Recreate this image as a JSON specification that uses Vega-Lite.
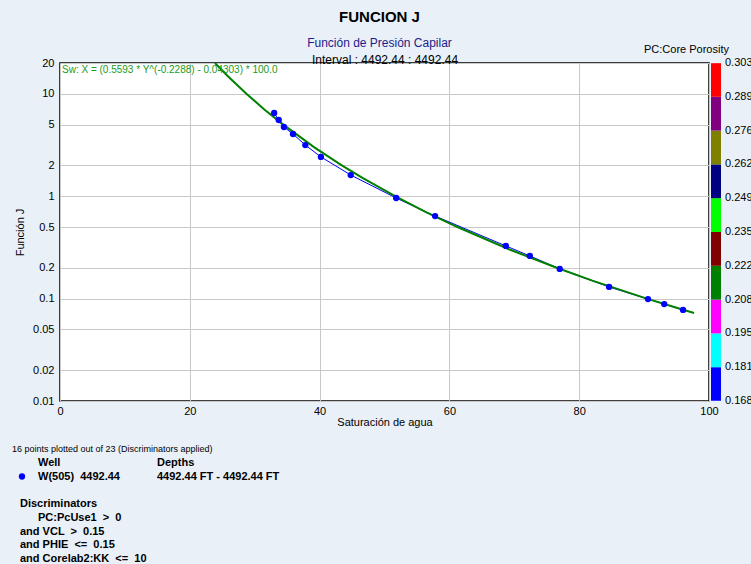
{
  "$schema": "https://vega.github.io/schema/vega-lite/v6.json",
  "width": 649,
  "height": 338,
  "autosize": {"type": "none"},
  "padding": {"left": 60, "top": 63, "right": 42, "bottom": 163},
  "background": "#e9f0f8",
  "view": {"fill": "white", "stroke": "black", "strokeWidth": 1.5},
  "title": {
    "text": "FUNCION J",
    "subtitle": "Función de Presión Capilar",
    "anchor": "middle",
    "frame": "group",
    "fontSize": 15,
    "fontWeight": "bold",
    "color": "black",
    "subtitleFontSize": 12,
    "subtitleColor": "#1c1c8a",
    "subtitlePadding": 13,
    "offset": -5,
    "dx": -5
  },
  "datasets": {
    "points": [
      {"sw": 33.0, "j": 6.5, "porosity": 0.17},
      {"sw": 33.7, "j": 5.55, "porosity": 0.17},
      {"sw": 34.5, "j": 4.74, "porosity": 0.17},
      {"sw": 35.9, "j": 4.05, "porosity": 0.17},
      {"sw": 37.8, "j": 3.16, "porosity": 0.17},
      {"sw": 40.2, "j": 2.42, "porosity": 0.17},
      {"sw": 44.8, "j": 1.61, "porosity": 0.17},
      {"sw": 51.8, "j": 0.96, "porosity": 0.17},
      {"sw": 57.8, "j": 0.64, "porosity": 0.17},
      {"sw": 68.7, "j": 0.327, "porosity": 0.17},
      {"sw": 72.4, "j": 0.261, "porosity": 0.17},
      {"sw": 77.0, "j": 0.195, "porosity": 0.17},
      {"sw": 84.6, "j": 0.13, "porosity": 0.17},
      {"sw": 90.6, "j": 0.099, "porosity": 0.17},
      {"sw": 93.1, "j": 0.0885, "porosity": 0.17},
      {"sw": 96.0, "j": 0.0775, "porosity": 0.17}
    ],
    "fit": [
      {"sw": 23.88, "j": 20},
      {"sw": 25.79, "j": 15},
      {"sw": 28.72, "j": 10},
      {"sw": 31.53, "j": 7},
      {"sw": 34.40, "j": 5},
      {"sw": 39.19, "j": 3},
      {"sw": 43.42, "j": 2},
      {"sw": 46.67, "j": 1.5},
      {"sw": 51.63, "j": 1},
      {"sw": 56.38, "j": 0.7},
      {"sw": 61.24, "j": 0.5},
      {"sw": 69.36, "j": 0.3},
      {"sw": 76.53, "j": 0.2},
      {"sw": 82.03, "j": 0.15},
      {"sw": 90.42, "j": 0.1},
      {"sw": 95.39, "j": 0.08},
      {"sw": 97.7, "j": 0.0724}
    ],
    "equation": [
      {"sw": 0, "j": 20, "label": "Sw: X = (0.5593 * Y^(-0.2288) - 0.04303) * 100.0"}
    ],
    "colorTitle": [
      {"sw": 100, "j": 20, "label": "PC:Core Porosity"}
    ],
    "notes": [
      {"line": 0, "tab": 4, "part": "summary", "text": "16 points plotted out of 23 (Discriminators applied)"},
      {"line": 1, "tab": 30, "part": "legend", "text": "Well"},
      {"line": 1, "tab": 149, "part": "legend", "text": "Depths"},
      {"line": 2, "tab": 30, "part": "legend", "text": "W(505) \u00a04492.44"},
      {"line": 2, "tab": 149, "part": "legend", "text": "4492.44 FT - 4492.44 FT"},
      {"line": 4, "tab": 12, "part": "discriminators", "text": "Discriminators"},
      {"line": 5, "tab": 30, "part": "discriminators", "text": "PC:PcUse1 \u00a0> \u00a00"},
      {"line": 6, "tab": 12, "part": "discriminators", "text": "and VCL \u00a0> \u00a00.15"},
      {"line": 7, "tab": 12, "part": "discriminators", "text": "and PHIE \u00a0<= \u00a00.15"},
      {"line": 8, "tab": 12, "part": "discriminators", "text": "and Corelab2:KK \u00a0<= \u00a010"}
    ],
    "wells": [
      {"line": 2, "tab": 14, "well": "W(505)"}
    ]
  },
  "layer": [
    {
      "encoding": {
        "y": {"field": "j", "type": "quantitative",
              "scale": {"type": "log", "domain": [0.01, 20], "nice": false},
              "axis": {"title": "Función J", "values": [0.01, 0.02, 0.05, 0.1, 0.2, 0.5, 1, 2, 5, 10, 20], "format": "~g", "grid": true, "labelPadding": 6, "titlePadding": 7}}
      },
      "layer": [
        {
          "data": {"name": "points"},
          "mark": {"type": "line", "color": "#0000ff", "strokeWidth": 1, "clip": true},
          "encoding": {
            "x": {"field": "sw", "type": "quantitative",
                  "scale": {"domain": [0, 100], "nice": false, "zero": false},
                  "axis": {"title": "Saturación de agua", "values": [0, 20, 40, 60, 80, 100], "grid": true, "labelPadding": 4, "titlePadding": 0}}
          }
        },
        {
          "data": {"name": "fit"},
          "mark": {"type": "line", "color": "#008000", "strokeWidth": 2, "clip": true},
          "encoding": {
            "x": {"field": "sw", "type": "quantitative",
                  "axis": {"orient": "top", "title": "Interval : 4492.44 : 4492.44", "titleFontSize": 12, "labels": false, "ticks": false, "domain": false, "grid": false, "titlePadding": -3}}
          }
        },
        {
          "data": {"name": "points"},
          "mark": {"type": "circle", "size": 40, "opacity": 1},
          "encoding": {
            "x": {"field": "sw", "type": "quantitative", "axis": null},
            "color": {
              "field": "porosity", "type": "quantitative",
              "scale": {"type": "quantize", "domain": [0.1677, 0.3027], "nice": false, "zero": false,
                        "range": ["#0000ff", "#00ffff", "#ff00ff", "#008000", "#800000", "#00ff00", "#000080", "#808000", "#800080", "#ff0000"]},
              "legend": {
                "type": "gradient", "orient": "none", "legendX": 651, "legendY": 0,
                "direction": "vertical", "gradientLength": 338, "gradientThickness": 10,
                "values": [0.1678, 0.1678, 0.1812, 0.1947, 0.2082, 0.2217, 0.2352, 0.2487, 0.2622, 0.2757, 0.2892, 0.3026],
                "title": null,
                "labelFontSize": 11, "labelColor": "black", "labelOffset": 4, "labelOverlap": false,
                "labelBaseline": "middle", "format": ".3f"
              }
            }
          }
        },
        {
          "data": {"name": "equation"},
          "mark": {"type": "text", "align": "left", "baseline": "top", "dx": 2, "dy": 2, "fontSize": 10, "color": "#1a9a1a"},
          "encoding": {
            "x": {"field": "sw", "type": "quantitative", "axis": null},
            "text": {"field": "label"}
          }
        },
        {
          "data": {"name": "colorTitle"},
          "mark": {"type": "text", "align": "right", "baseline": "bottom", "dx": 20, "dy": -8, "fontSize": 11, "color": "black"},
          "encoding": {
            "x": {"field": "sw", "type": "quantitative", "axis": null},
            "text": {"field": "label"}
          }
        }
      ],
      "resolve": {"axis": {"x": "independent"}}
    },
    {
      "layer": [
        {
          "data": {"name": "notes"},
          "transform": [{"filter": "datum.part === 'summary'"}],
          "mark": {"type": "text", "align": "left", "baseline": "middle", "fontSize": 9, "color": "black"},
          "encoding": {
            "x": {"field": "tab", "type": "quantitative", "scale": {"domain": [0, 743], "range": [-52, 691], "nice": false, "zero": false}, "axis": null},
            "y": {"field": "line", "type": "quantitative", "scale": {"domain": [0, 8], "range": [386, 496], "nice": false, "zero": false}, "axis": null},
            "text": {"field": "text"}
          }
        },
        {
          "data": {"name": "notes"},
          "transform": [{"filter": "datum.part !== 'summary'"}],
          "mark": {"type": "text", "align": "left", "baseline": "middle", "fontSize": 11, "fontWeight": "bold", "color": "black"},
          "encoding": {
            "x": {"field": "tab", "type": "quantitative", "axis": null},
            "y": {"field": "line", "type": "quantitative", "axis": null},
            "text": {"field": "text"}
          }
        },
        {
          "data": {"name": "wells"},
          "mark": {"type": "circle", "size": 40, "opacity": 1, "color": "#0000ff"},
          "encoding": {
            "x": {"field": "tab", "type": "quantitative", "axis": null},
            "y": {"field": "line", "type": "quantitative", "axis": null}
          }
        }
      ]
    }
  ],
  "resolve": {"scale": {"x": "independent", "y": "independent"}},
  "config": {
    "font": "Liberation Sans",
    "axis": {
      "labelFontSize": 11, "titleFontSize": 11, "titleFontWeight": "normal",
      "labelColor": "black", "titleColor": "black",
      "gridColor": "#c8c8c8", "gridOpacity": 1, "gridWidth": 1,
      "domain": false, "ticks": false, "labelFlush": false
    }
  }
}
